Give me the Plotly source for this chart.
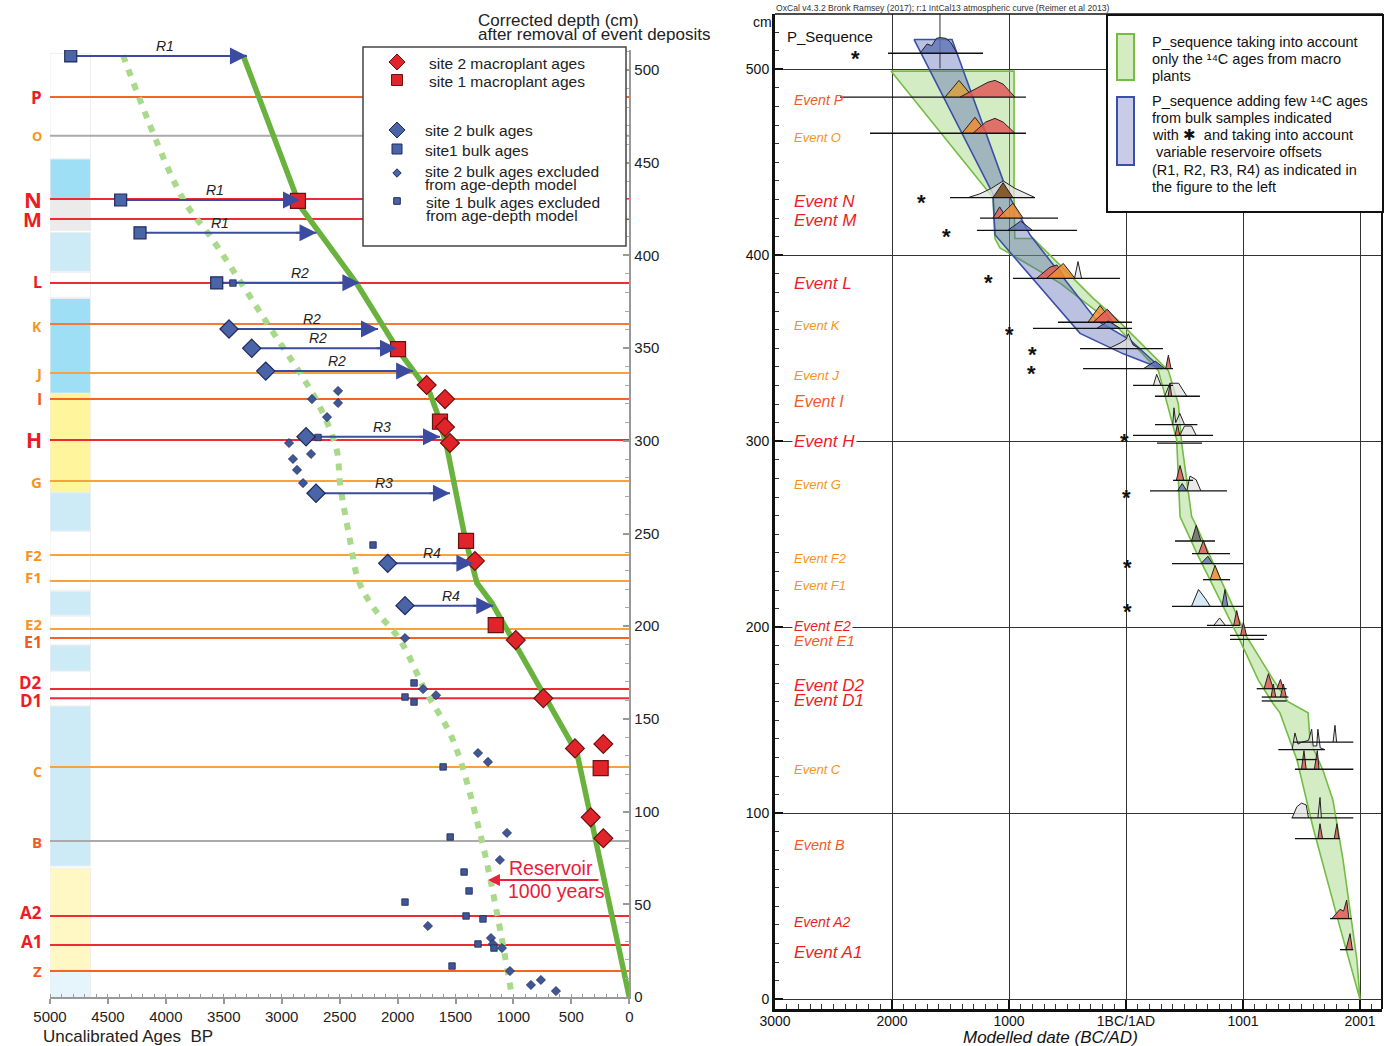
import plotly.graph_objects as go

W, H = 1388, 1046


def PX(x):
    return x / W


def PY(y):
    return 1 - y / H


# ======================= LEFT PANEL DATA =======================
left_age_ticks = [5000, 4500, 4000, 3500, 3000, 2500, 2000, 1500, 1000, 500, 0]
left_depth_ticks = [0, 50, 100, 150, 200, 250, 300, 350, 400, 450, 500]

event_names = ["P", "O", "N", "M", "L", "K", "J", "I", "H", "G", "F2", "F1",
               "E2", "E1", "D2", "D1", "C", "B", "A2", "A1", "Z"]
event_depths = [485.4, 464.5, 430.4, 419.6, 385.1, 363.0, 336.6, 322.5, 300.4, 278.3,
                238.4, 224.4, 198.5, 193.6, 166.1, 161.2, 124.1, 84.2, 43.7, 28.0, 14.0]

RED = "#ed1c24"
ORG = "#f7941d"
ORR = "#f15a24"
event_label_colors = [RED, ORG, RED, RED, RED, ORG, ORG, ORR, RED, ORG, ORG, ORG,
                      ORG, ORR, RED, RED, ORG, ORR, RED, RED, ORR]
event_line_colors = ["#f26522", "#aaaaaa", "#ee2a35", "#ee2a35", "#ee2a35", "#f47a3c",
                     "#f9a13a", "#f26522", "#ee2a35", "#f9a13a", "#f9a13a", "#f9a13a",
                     "#f9a13a", "#f26522", "#ee2a35", "#ee2a35", "#f9a13a", "#aaaaaa",
                     "#ee2a35", "#ee2a35", "#f26522"]
event_label_sizes = [17, 13, 22, 20, 16, 14, 15, 16, 21, 15, 15, 15, 15, 16, 17, 17, 14, 15, 17, 17, 15]
event_label_shift = [0, 0, 0, 0, 1, -2, 0, 0, 0, -1, 0, 4, 5, -4, 7, -2, -5, -1, 3, 4, 0]

# depth column (lithology strip)
column_top = [509, 452, 430.7, 412.4, 390.8, 376.8, 325.6, 272.2, 251.2, 218.9,
              205.4, 189.8, 175.7, 156.9, 69.5, 14.6]
column_bottom = [452, 430.7, 413.5, 391.4, 377.4, 325.6, 272.2, 251.2, 219.4, 205.9,
                 189.8, 175.7, 156.9, 70.6, 14.6, 0]
column_colors = ["#ffffff", "#9fdff5", "#ebebeb", "#cdeaf7", "#ffffff", "#9fdff5",
                 "#fff59d", "#cdeaf7", "#ffffff", "#cdeaf7", "#ffffff", "#cdeaf7",
                 "#ffffff", "#cdeaf7", "#fff8c4", "#e6f4fb"]

# age-depth model (solid green)
model_age = [3334, 2842, 2350, 1997, 1721, 1661, 1575, 1419, 1315, 1186, 746, 452, 426, 0]
model_depth = [508, 426.6, 384.6, 349, 325.8, 315.5, 296.7, 248.1, 223.3, 212.5, 164, 131.6, 124.1, 0]

# reservoir-shifted curve (dotted pale green)
res_age = [4370, 3861, 3594, 3015, 2842, 2670, 2525, 2497, 2411, 2339, 2212, 1979,
           1763, 1522, 1289, 1142, 1012]
res_depth = [508, 431.5, 408.3, 352.8, 336.6, 318.2, 295, 277, 246.5, 224.9, 210.4,
             192.6, 165.6, 138.6, 88.5, 45.3, 0]

s2_macro_age = [1749, 1591, 1591, 1548, 1332, 980, 742, 469, 224, 333, 224]
s2_macro_depth = [330.1, 322.5, 307.4, 298.8, 235.2, 192.5, 161.1, 134.1, 136.5, 96.9, 85.6]

s1_macro_age = [2860, 1996, 1634, 1409, 1153, 247]
s1_macro_depth = [429.4, 349.5, 310.3, 246, 200.6, 123.4]

s2_bulk_age = [3455, 3259, 3138, 2790, 2704, 2085, 1936]
s2_bulk_depth = [360.3, 349.9, 337.6, 302.2, 271.7, 233.9, 211.1]

s1_bulk_age = [4821, 4390, 4223, 3561]
s1_bulk_depth = [507.6, 429.9, 412.2, 385.2]

s2_excl_age = [2514, 2739, 2514, 2609, 2937, 2747, 2903, 2868, 2816, 1936, 1780, 1668,
               1306, 1220, 1056, 1117, 1738, 1194, 1177, 1099, 1030, 849, 763, 633]
s2_excl_depth = [326.9, 322.5, 320.4, 312.8, 298.8, 292.9, 290.2, 284.3, 277.2, 193.6,
                 166.1, 162.8, 131.6, 126.8, 88.5, 73.9, 38.3, 31.8, 28.6, 26.4, 14,
                 6.5, 9.2, 3.2]

s1_excl_age = [3421, 2687, 2212, 1858, 1936, 1858, 1607, 1546, 1426, 1383, 1936, 1409,
               1263, 1306, 1168, 1530]
s1_excl_depth = [385.1, 301.8, 243.8, 169.4, 161.8, 159.1, 124.1, 86.3, 67.4, 57.2,
                 51.2, 43.7, 42.1, 28.6, 26.4, 16.7]

# reservoir offset arrows
arrow_labels = ["R1", "R1", "R1", "R2", "R2", "R2", "R2", "R3", "R3", "R4", "R4"]
arrow_start = [4821, 4390, 4223, 3561, 3455, 3259, 3138, 2790, 2704, 2085, 1936]
arrow_end = [3300, 2842, 2700, 2330, 2169, 2005, 1866, 1634, 1548, 1346, 1174]
arrow_depth = [507.6, 429.9, 412.2, 385.2, 360.3, 349.9, 337.6, 302.2, 271.7, 233.9, 211.1]
arrow_label_age = [4008, 3576, 3533, 2842, 2739, 2687, 2523, 2134, 2117, 1703, 1539]

# ======================= RIGHT PANEL DATA =======================
cal_ticks = [-3000, -2000, -1000, 0, 1000, 2000]
cal_tick_text = ["3000", "2000", "1000", "1BC/1AD", "1001", "2001"]
right_depth_ticks = [0, 100, 200, 300, 400, 500]

right_event_labels = ["Event P", "Event O", "Event N", "Event M", "Event L", "Event K",
                      "Event J", "Event I", "Event H", "Event G", "Event F2", "Event F1",
                      "Event E2", "Event E1", "Event D2", "Event D1", "Event C", "Event B",
                      "Event A2", "Event A1"]
right_label_depths = [483.5, 463.4, 428.8, 418.6, 384.9, 362, 335.3, 321.3, 299.8, 277,
                      237.1, 222.7, 200.5, 193, 168.5, 160.5, 123.3, 83, 41.4, 25.1]
right_label_colors = [ORR, ORG, RED, RED, RED, ORG, ORG, ORR, RED, ORG, ORG, ORG,
                      RED, ORR, RED, RED, ORG, ORR, RED, RED]
right_label_sizes = [14, 13, 17, 17, 17, 13, 13.5, 16, 17, 13, 13, 13, 14, 15, 17, 17,
                     13, 14.5, 14, 17]

# envelope: macro-plant only (green)
green_year = [-2009, -1137, -1120, -1077, -564, -68, 277, 433, 462, 604, 974, 1130, 1256,
              1316, 1462, 1598, 1829, 2000,
              1974, 1915, 1855, 1769, 1684, 1573, 1556, 1385, 1259, 1031, 803, 590, 561,
              476, 448, 362, -68, -282, -792, -950, -957, -957]
green_depth = [499, 431, 409, 404, 385, 361, 338, 301, 259.5, 240, 193, 171.7, 159,
               154, 128.5, 92.5, 38.7, 0,
               21, 48, 75, 107, 123, 139, 154, 160, 171.7, 195, 227, 256, 259.5,
               299, 320, 338, 365, 377, 409, 409, 430, 499]

# envelope: with bulk samples (blue)
blue_year = [-1812, -1137, -1120, -393, -23, 305, 34, -251, -821, -1009, -1487]
blue_depth = [516, 433, 411, 358, 347, 339, 354.5, 365, 411, 433, 516]

# distribution baselines
base_depth = [508.6, 485, 465.6, 431, 420, 413.4, 387.6, 364, 360.7, 349.8, 339.1, 330,
              324.2, 309, 303.2, 299, 279, 273.3, 246.4, 239.6, 234.2, 225.6, 211.3, 201,
              195.7, 193.5, 167, 162.5, 160.4, 138.3, 134.2, 128.9, 123.7, 97.5, 86.4,
              43.4, 26.7]
base_start = [-2034, -2444, -2188, -1504, -1248, -1274, -966, -581, -795, -393, -367, 60,
              248, 248, 60, 265, 402, 205, 419, 564, 393, 658, 393, 692,
              889, 889, 1117, 1160, 1160, 1430, 1302, 1459, 1444, 1416, 1444,
              1744, 1829]
base_end = [-1222, -855, -855, -778, -581, -419, -51, 51, 51, 316, 402, 402,
            632, 610, 744, 650, 573, 863, 761, 889, 1000, 889, 1000, 974,
            1205, 1180, 1373, 1388, 1373, 1943, 1700, 1630, 1943, 1943, 1829,
            1929, 1943]

# probability peaks (base depth, colour, vertex years, vertex heights in cm)
peak_base = [508.6, 485, 485, 465.6, 465.6, 431, 431, 420, 420, 413.4, 387.6, 387.6, 387.6,
             364, 364, 360.7, 349.8, 339.1, 339.1, 330, 324.2, 324.2, 309, 303.2, 303.2,
             279, 273.3, 273.3, 246.4, 239.6, 234.2, 225.6, 211.3, 211.3, 201, 201, 195.7,
             167, 167, 162.5, 162.5, 134.2, 138.3, 123.7, 123.7, 97.5, 97.5, 86.4, 86.4,
             43.4, 26.7]
peak_color = ["blue", "gold", "red", "orange", "red", "gray", "brown", "red", "orange", "blue",
              "red", "orange", "gray", "orange", "red", "blue", "gray", "blue", "red", "gray",
              "gray", "red", "gray", "gray", "red", "red", "blue", "gray", "dark", "red",
              "blue", "orange", "lightblue", "blue", "red", "gray", "red", "red", "red", "red",
              "red", "gray", "gray", "red", "red", "gray", "gray", "red", "red", "red", "red"]
peak_years = [
    [-1761, -1700, -1660, -1620, -1590, -1540, -1500, -1444],
    [-1547, -1427, -1308],
    [-1419, -1300, -1180, -1120, -1050, -949],
    [-1402, -1291, -1188],
    [-1308, -1200, -1120, -1050, -949],
    [-1350, -1250, -1150, -1050, -950, -850, -778],
    [-1137, -1051, -966],
    [-1137, -1080, -1020],
    [-1094, -966, -880],
    [-1010, -900, -800],
    [-764, -650, -590, -520],
    [-678, -536, -436],
    [-440, -410, -380],
    [-325, -222, -111],
    [-280, -160, -60],
    [-250, -150, -50],
    [-150, -50, 0, 20, 60, 120],
    [150, 250, 330],
    [340, 362, 385],
    [234, 262, 300],
    [330, 376, 450, 520],
    [360, 376, 390],
    [400, 410, 425, 460, 500],
    [460, 500, 560, 600],
    [420, 440, 460],
    [430, 462, 495],
    [440, 480, 520],
    [520, 547, 600, 640],
    [560, 600, 640],
    [620, 661, 700],
    [640, 700, 740],
    [720, 761, 810],
    [560, 620, 680, 720],
    [820, 846, 870],
    [920, 946, 975],
    [750, 800, 850],
    [980, 1003, 1030],
    [1180, 1217, 1260],
    [1290, 1320, 1345],
    [1240, 1259, 1280],
    [1320, 1345, 1370],
    [1420, 1444, 1470, 1500, 1560, 1587, 1600, 1630, 1640, 1660, 1700],
    [1770, 1786, 1800],
    [1500, 1521, 1540],
    [1610, 1635, 1650],
    [1420, 1460, 1500, 1540, 1560],
    [1640, 1658, 1670],
    [1640, 1658, 1680],
    [1780, 1803, 1820],
    [1760, 1829, 1860, 1886, 1905],
    [1880, 1915, 1935],
]
peak_heights = [
    [0, 5, 4, 8, 8.4, 8, 6, 0],
    [0, 9, 0],
    [0, 4, 8, 9, 7, 0],
    [0, 8.6, 0],
    [0, 6, 8, 6, 0],
    [0, 2, 5, 9, 5, 2, 0],
    [0, 8, 0],
    [0, 6, 0],
    [0, 8, 0],
    [0, 5, 0],
    [0, 6, 7.2, 0],
    [0, 8, 0],
    [0, 9, 0],
    [0, 9, 0],
    [0, 7, 0],
    [0, 4, 0],
    [0, 3, 5, 8, 2, 0],
    [0, 4, 0],
    [0, 7.2, 0],
    [0, 6, 0],
    [0, 7, 7, 0],
    [0, 7, 0],
    [0, 9, 1, 6, 0],
    [0, 5, 5, 0],
    [0, 6, 0],
    [0, 8, 0],
    [0, 4, 0],
    [0, 8, 6, 0],
    [0, 8.4, 0],
    [0, 7, 0],
    [0, 4, 0],
    [0, 7.7, 0],
    [0, 9, 4, 0],
    [0, 9, 0],
    [0, 8, 0],
    [0, 4, 0],
    [0, 7, 0],
    [0, 8, 0],
    [0, 5, 0],
    [0, 7, 0],
    [0, 7, 0],
    [0, 9, 3, 4, 5, 11, 2, 2, 11, 1, 0],
    [0, 9, 0],
    [0, 10, 0],
    [0, 10, 0],
    [0, 6, 8, 7, 0],
    [0, 11, 0],
    [0, 8, 0],
    [0, 8, 0],
    [0, 5, 4, 10, 0],
    [0, 8.6, 0],
]

star_year = [-2308, -1744, -1530, -1179, -1000, -795, -812, -9, 0, 17, 17]
star_depth = [508.2, 431.3, 413, 387.8, 360, 349.1, 339, 302.8, 272.7, 234.6, 211]

pseq_boundary_year = -1590
pseq_boundary_depth = [500.5, 529.7]

# ======================= FIGURE =======================
fig = go.Figure()

# ---- left panel traces ----
for d, c in zip(event_depths, event_line_colors):
    fig.add_trace(go.Scatter(x=[5000, 0], y=[d, d], mode="lines",
                             line=dict(color=c, width=2), hoverinfo="skip",
                             xaxis="x", yaxis="y"))

fig.add_trace(go.Scatter(x=res_age, y=res_depth, mode="lines",
                         line=dict(color="#a9d98b", width=6, dash="7px,8px", shape="spline"),
                         xaxis="x", yaxis="y"))
fig.add_trace(go.Scatter(x=model_age, y=model_depth, mode="lines",
                         line=dict(color="#6ab23e", width=5.5),
                         xaxis="x", yaxis="y"))

shaft_x, shaft_y = [], []
for a0, a1, d in zip(arrow_start, arrow_end, arrow_depth):
    shaft_x += [a0, a1, None]
    shaft_y += [d, d, None]
fig.add_trace(go.Scatter(x=shaft_x, y=shaft_y, mode="lines",
                         line=dict(color="#3b4ca0", width=2), xaxis="x", yaxis="y"))

fig.add_trace(go.Scatter(x=s2_excl_age, y=s2_excl_depth, mode="markers",
                         marker=dict(symbol="diamond", size=7, color="#3f5795",
                                     line=dict(color="#1e2a5a", width=0.8)),
                         xaxis="x", yaxis="y"))
fig.add_trace(go.Scatter(x=s1_excl_age, y=s1_excl_depth, mode="markers",
                         marker=dict(symbol="square", size=6.5, color="#3f5795",
                                     line=dict(color="#1e2a5a", width=0.8)),
                         xaxis="x", yaxis="y"))
fig.add_trace(go.Scatter(x=s2_bulk_age, y=s2_bulk_depth, mode="markers",
                         marker=dict(symbol="diamond", size=14, color="#4a64a8",
                                     line=dict(color="#1e2a5a", width=1.2)),
                         xaxis="x", yaxis="y"))
fig.add_trace(go.Scatter(x=s1_bulk_age, y=s1_bulk_depth, mode="markers",
                         marker=dict(symbol="square", size=12, color="#4a64a8",
                                     line=dict(color="#1e2a5a", width=1.2)),
                         xaxis="x", yaxis="y"))
fig.add_trace(go.Scatter(x=s1_macro_age, y=s1_macro_depth, mode="markers",
                         marker=dict(symbol="square", size=15, color="#e0242a",
                                     line=dict(color="#6b1010", width=1.2)),
                         xaxis="x", yaxis="y"))
fig.add_trace(go.Scatter(x=s2_macro_age, y=s2_macro_depth, mode="markers",
                         marker=dict(symbol="diamond", size=14.5, color="#e0242a",
                                     line=dict(color="#6b1010", width=1.2)),
                         xaxis="x", yaxis="y"))

# ---- right panel traces ----
fig.add_trace(go.Scatter(x=green_year + [green_year[0]], y=green_depth + [green_depth[0]],
                         mode="lines", fill="toself", fillcolor="rgba(140,205,100,0.38)",
                         line=dict(color="#74bd42", width=1.6), xaxis="x2", yaxis="y2"))
fig.add_trace(go.Scatter(x=blue_year + [blue_year[0]], y=blue_depth + [blue_depth[0]],
                         mode="lines", fill="toself", fillcolor="rgba(75,95,175,0.38)",
                         line=dict(color="#3c4fa8", width=1.6), xaxis="x2", yaxis="y2"))

fig.add_trace(go.Scatter(x=[pseq_boundary_year, pseq_boundary_year], y=pseq_boundary_depth,
                         mode="lines", line=dict(color="#333", width=1),
                         xaxis="x2", yaxis="y2"))

peak_fill = {
    "blue": "rgba(95,115,185,0.8)", "gold": "rgba(215,160,60,0.85)",
    "red": "rgba(226,92,88,0.85)", "orange": "rgba(240,140,50,0.85)",
    "gray": "rgba(225,225,225,0.75)", "brown": "rgba(125,78,30,0.9)",
    "lightblue": "rgba(205,228,246,0.8)", "dark": "rgba(90,90,90,0.75)",
}
for b, c, xs, hs in zip(peak_base, peak_color, peak_years, peak_heights):
    fig.add_trace(go.Scatter(x=xs, y=[b + h for h in hs], mode="lines", fill="toself",
                             fillcolor=peak_fill[c], line=dict(color="#222", width=1),
                             xaxis="x2", yaxis="y2"))

bx, by = [], []
for d, s, e in zip(base_depth, base_start, base_end):
    bx += [s, e, None]
    by += [d, d, None]
fig.add_trace(go.Scatter(x=bx, y=by, mode="lines", line=dict(color="#111", width=1.3),
                         xaxis="x2", yaxis="y2"))

# ---- layout / axes ----
fig.update_layout(
    width=W, height=H, margin=dict(l=0, r=0, t=0, b=0, autoexpand=False),
    paper_bgcolor="white", plot_bgcolor="rgba(0,0,0,0)", showlegend=False,
    font=dict(family="Liberation Sans, Arial, sans-serif", color="#222"),
    xaxis=dict(domain=[PX(50), PX(629.3)], range=[5000, 0], anchor="y", automargin=False,
               showgrid=False, zeroline=False, showline=True, linecolor="#999",
               linewidth=2, ticks="outside", ticklen=5, tickwidth=2, tickcolor="#999",
               tickmode="array", tickvals=left_age_ticks,
               ticktext=[str(v) for v in left_age_ticks],
               tickfont=dict(size=15, color="#222"),
               minor=dict(tickmode="linear", tick0=0, dtick=100, ticks="inside",
                          ticklen=3, tickcolor="#999", tickwidth=1)),
    yaxis=dict(domain=[PY(997), PY(50)], range=[0, 510.8], anchor="x", side="right",
               automargin=False,
               showgrid=False, zeroline=False, showline=True, linecolor="#999",
               linewidth=2, ticks="inside", ticklen=6, tickwidth=1.5, tickcolor="#999",
               tickmode="array", tickvals=left_depth_ticks,
               tickfont=dict(size=15, color="#222"),
               minor=dict(tickmode="linear", tick0=0, dtick=10, ticks="inside",
                          ticklen=4, tickcolor="#aaa", tickwidth=1)),
    xaxis2=dict(domain=[PX(775), PX(1382)], range=[-3000, 2188], anchor="y2",
                automargin=False, ticklabelstandoff=-3,
                showgrid=True, gridcolor="#333", gridwidth=1, zeroline=False,
                showline=True, linecolor="#111", linewidth=3,
                ticks="inside", ticklen=9, tickwidth=2, tickcolor="#111",
                tickmode="array", tickvals=cal_ticks, ticktext=cal_tick_text,
                tickfont=dict(size=14, color="#111"),
                minor=dict(tickmode="linear", tick0=0, dtick=100, ticks="inside",
                           ticklen=5, tickcolor="#333", tickwidth=1)),
    yaxis2=dict(domain=[PY(1009), PY(14)], range=[-5.2, 529.7], anchor="x2",
                automargin=False,
                showgrid=True, gridcolor="#333", gridwidth=1, zeroline=False,
                showline=True, linecolor="#111", linewidth=3,
                ticks="inside", ticklen=8, tickwidth=2, tickcolor="#111",
                tickmode="array", tickvals=right_depth_ticks,
                tickfont=dict(size=14, color="#111"),
                minor=dict(tickmode="linear", tick0=0, dtick=10, ticks="inside",
                           ticklen=4, tickcolor="#333", tickwidth=1)),
)

shapes = []
# lithology column
for t, b, c in zip(column_top, column_bottom, column_colors):
    shapes.append(dict(type="rect", xref="x", yref="y", x0=5000, x1=4650, y0=b, y1=t,
                       fillcolor=c, line=dict(color="#efefef", width=1), layer="below"))

# right panel borders (top / right)
shapes.append(dict(type="line", xref="paper", yref="paper", x0=PX(775), x1=PX(1383),
                   y0=PY(14), y1=PY(14), line=dict(color="#111", width=1.5)))
shapes.append(dict(type="line", xref="paper", yref="paper", x0=PX(1382), x1=PX(1382),
                   y0=PY(14), y1=PY(1009), line=dict(color="#111", width=2)))

# left legend box
shapes.append(dict(type="rect", xref="paper", yref="paper", x0=PX(363), x1=PX(626),
                   y0=PY(246), y1=PY(47), fillcolor="white",
                   line=dict(color="#444", width=1.5), layer="above"))
# right legend box
shapes.append(dict(type="rect", xref="paper", yref="paper", x0=PX(1107), x1=PX(1383),
                   y0=PY(212), y1=PY(15), fillcolor="white",
                   line=dict(color="#111", width=2), layer="above"))
shapes.append(dict(type="rect", xref="paper", yref="paper", x0=PX(1117), x1=PX(1134),
                   y0=PY(80), y1=PY(34), fillcolor="#d5ecc2",
                   line=dict(color="#76bc43", width=2), layer="above"))
shapes.append(dict(type="rect", xref="paper", yref="paper", x0=PX(1117), x1=PX(1134),
                   y0=PY(165), y1=PY(97), fillcolor="#c9cce6",
                   line=dict(color="#3c4fa8", width=2), layer="above"))


def diamond(cx, cy, r):
    return (f"M {PX(cx - r)},{PY(cy)} L {PX(cx)},{PY(cy - r)} "
            f"L {PX(cx + r)},{PY(cy)} L {PX(cx)},{PY(cy + r)} Z")


def square(cx, cy, r):
    return (f"M {PX(cx - r)},{PY(cy - r)} L {PX(cx + r)},{PY(cy - r)} "
            f"L {PX(cx + r)},{PY(cy + r)} L {PX(cx - r)},{PY(cy + r)} Z")


legend_marks = [
    (diamond(397, 62, 8), "#e0242a", "#6b1010"),
    (square(397, 80, 5.5), "#e0242a", "#6b1010"),
    (diamond(397, 130, 8), "#4a64a8", "#1e2a5a"),
    (square(397, 149, 5), "#4a64a8", "#1e2a5a"),
    (diamond(397, 173, 4.2), "#4a64a8", "#1e2a5a"),
    (square(397, 201, 3.3), "#4a64a8", "#1e2a5a"),
]
for p, fc, lc in legend_marks:
    shapes.append(dict(type="path", xref="paper", yref="paper", path=p, fillcolor=fc,
                       line=dict(color=lc, width=1), layer="above"))

fig.update_layout(shapes=shapes)

ann = []
# left event labels
for n, d, c, s, sh in zip(event_names, event_depths, event_label_colors,
                          event_label_sizes, event_label_shift):
    ann.append(dict(x=PX(44), xref="paper", y=d, yref="y", text=f"<b>{n}</b>",
                    showarrow=False, xanchor="right", yanchor="middle", yshift=sh,
                    font=dict(family="Open Sans, sans-serif", size=s, color=c)))

# arrow heads and R labels
for a1, d, lab, la in zip(arrow_end, arrow_depth, arrow_labels, arrow_label_age):
    ann.append(dict(x=a1, y=d, xref="x", yref="y", ax=-22, ay=0, text="",
                    showarrow=True, arrowhead=2, arrowsize=1.7, arrowwidth=2,
                    arrowcolor="#3b4ca0"))
    ann.append(dict(x=la, y=d, xref="x", yref="y", text=f"<i>{lab}</i>",
                    showarrow=False, yshift=10, font=dict(size=14, color="#222")))

# reservoir annotation
ann.append(dict(x=1220, y=63.1, xref="x", yref="y", ax=112, ay=0, text="",
                showarrow=True, arrowhead=2, arrowsize=1.2, arrowwidth=2,
                arrowcolor="#e8203a"))
ann.append(dict(x=PX(507), y=PY(868), xref="paper", yref="paper", text="Reservoir",
                showarrow=False, xanchor="left", yanchor="middle",
                font=dict(size=19.5, color="#e8203a")))
ann.append(dict(x=PX(506), y=PY(891), xref="paper", yref="paper", text="1000 years",
                showarrow=False, xanchor="left", yanchor="middle",
                font=dict(size=19.5, color="#e8203a")))

# left titles
ann.append(dict(x=PX(476), y=PY(20), xref="paper", yref="paper",
                text="Corrected depth (cm)", showarrow=False, xanchor="left",
                yanchor="middle", font=dict(size=17, color="#222")))
ann.append(dict(x=PX(476), y=PY(34), xref="paper", yref="paper",
                text="after removal of event deposits", showarrow=False, xanchor="left",
                yanchor="middle", font=dict(size=17, color="#222")))
ann.append(dict(x=PX(41), y=PY(1036), xref="paper", yref="paper",
                text="Uncalibrated Ages \u00a0BP", showarrow=False, xanchor="left",
                yanchor="middle", font=dict(size=17, color="#222")))

# left legend text
leg_text = [("site 2 macroplant ages", 427, 63), ("site 1 macroplant ages", 427, 82),
            ("site 2 bulk ages", 423, 130), ("site1 bulk ages", 423, 150),
            ("site 2 bulk ages excluded", 423, 171), ("from age-depth model", 423, 184),
            ("site 1 bulk ages excluded", 424, 202), ("from age-depth model", 424, 216)]
for t, x, y in leg_text:
    ann.append(dict(x=PX(x), y=PY(y), xref="paper", yref="paper", text=t,
                    showarrow=False, xanchor="left", yanchor="middle",
                    font=dict(size=15.5, color="#222")))

# right panel texts
ann.append(dict(x=PX(774), y=PY(8), xref="paper", yref="paper",
                text="OxCal v4.3.2 Bronk Ramsey (2017); r:1 IntCal13 atmospheric curve (Reimer et al 2013)",
                showarrow=False, xanchor="left", yanchor="middle",
                font=dict(size=8.6, color="#333")))
ann.append(dict(x=PX(762), y=PY(22), xref="paper", yref="paper", text="cm",
                showarrow=False, xanchor="center", yanchor="middle",
                font=dict(size=14, color="#111")))
ann.append(dict(x=PX(785), y=PY(36), xref="paper", yref="paper", text="P_Sequence",
                showarrow=False, xanchor="left", yanchor="middle",
                font=dict(size=15, color="#111")))
ann.append(dict(x=PX(1050), y=PY(1037), xref="paper", yref="paper",
                text="<i>Modelled date (BC/AD)</i>", showarrow=False, xanchor="center",
                yanchor="middle", font=dict(size=17, color="#111")))

for t, d, c, s in zip(right_event_labels, right_label_depths, right_label_colors,
                      right_label_sizes):
    a = dict(x=PX(792), xref="paper", y=d, yref="y2", text=f"<i>{t}</i>",
             showarrow=False, xanchor="left", yanchor="middle",
             font=dict(size=s, color=c))
    if t in ("Event H", "Event E2"):
        a["bgcolor"] = "white"
    ann.append(a)

for yr, d in zip(star_year, star_depth):
    ann.append(dict(x=yr, y=d, xref="x2", yref="y2", text="<b>*</b>", showarrow=False,
                    yshift=-5, font=dict(size=22, color="#111")))

right_leg = [("P_sequence taking into account", 1150, 42),
             ("only the \u00b9\u2074C ages from macro", 1150, 59),
             ("plants", 1150, 76),
             ("P_sequence adding few \u00b9\u2074C ages", 1150, 101),
             ("from bulk samples indicated", 1150, 118),
             ("with \u2731  and taking into account", 1150, 135),
             ("variable reservoire offsets", 1154, 152),
             ("(R1, R2, R3, R4) as indicated in", 1150, 170),
             ("the figure to the left", 1150, 187)]
for t, x, y in right_leg:
    ann.append(dict(x=PX(x), y=PY(y), xref="paper", yref="paper", text=t,
                    showarrow=False, xanchor="left", yanchor="middle",
                    font=dict(size=14.5, color="#111")))

fig.update_layout(annotations=ann)
fig.write_html("out.html")
